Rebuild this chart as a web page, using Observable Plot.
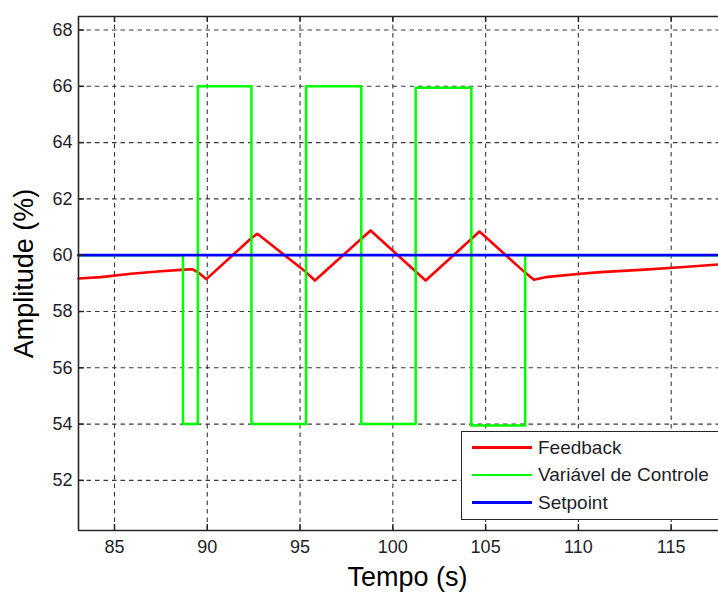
<!DOCTYPE html>
<html>
<head>
<meta charset="utf-8">
<script src="https://cdn.jsdelivr.net/npm/d3@7"></script>
<script src="https://cdn.jsdelivr.net/npm/@observablehq/plot@0.6"></script>
<style>
  html, body { margin: 0; padding: 0; background: #fff; }
  #fig { position: relative; width: 718px; height: 592px; overflow: hidden; font-family: "Liberation Sans", Arial, sans-serif; }
  #legend { position: absolute; left: 461px; top: 431px; width: 280px; height: 89px; background: #fff; border: 1.5px solid #262626; box-sizing: border-box; }
  .row { position: absolute; left: 0; height: 26px; display: flex; align-items: center; }
  .sw { width: 60px; height: 2.5px; margin-left: 10px; margin-right: 6px; }
  .lb { font-size: 19px; color: #1e1e2a; white-space: nowrap; }
</style>
</head>
<body>
<div id="fig"></div>
<script>
// ---- data ----
const xDomain = [83.06, 117.55];
const yDomain = [50.22, 68.48];
const xTicks = [85, 90, 95, 100, 105, 110, 115];
const yTicks = [52, 54, 56, 58, 60, 62, 64, 66, 68];

const seriesNames = ["Feedback", "Variável de Controle", "Setpoint"];
const seriesColors = ["#ff0000", "#00ff00", "#0000ff"];

const feedbackT = [83.06, 84.26, 85.88, 87.50, 88.57, 89.20, 89.49, 89.95, 92.40, 92.70, 95.32, 95.80, 98.80, 101.23, 101.77, 104.67, 107.10, 107.60, 108.23, 110.11, 111.19, 113.35, 115.50, 117.55];
const feedbackV = [59.17, 59.22, 59.34, 59.43, 59.48, 59.50, 59.40, 59.15, 60.62, 60.76, 59.40, 59.10, 60.88, 59.42, 59.10, 60.84, 59.40, 59.13, 59.22, 59.34, 59.40, 59.48, 59.57, 59.67];

const controlT = [83.06, 88.69, 89.49, 92.38, 95.32, 98.30, 101.23, 104.23, 107.13, 117.55];
const controlV = [60, 54, 66, 54, 66, 54, 65.95, 53.95, 60, 60];

const setpointT = [83.06, 117.55];
const setpointV = [60, 60];

// ---- build ----
const toRows = (T, V) => T.map((t, i) => ({t, v: V[i]}));
const feedback = toRows(feedbackT, feedbackV);
const control = toRows(controlT, controlV);
const setpoint = toRows(setpointT, setpointV);

const W = 718, H = 592, mL = 78, mR = 0, mT = 16, mB = 62;
const pxX = (xDomain[1] - xDomain[0]) / (W - mL - mR);
const pxY = (yDomain[1] - yDomain[0]) / (H - mT - mB);
const tick = 6;
const frameColor = "#262626";
const grid = {stroke: "#222", strokeOpacity: 0.9, strokeWidth: 1.1, strokeDasharray: "4.5,4"};

const chart = Plot.plot({
  width: W, height: H,
  marginLeft: mL, marginRight: mR, marginTop: mT, marginBottom: mB,
  x: {domain: xDomain},
  y: {domain: yDomain},
  style: {fontFamily: '"Liberation Sans", Arial, sans-serif', fontSize: "18px", color: "#1e1e2a", background: "#fff"},
  marks: [
    Plot.gridX(xTicks, grid),
    Plot.gridY(yTicks, grid),
    Plot.line(feedback, {x: "t", y: "v", stroke: seriesColors[0], strokeWidth: 2.6}),
    Plot.line(control, {x: "t", y: "v", stroke: seriesColors[1], strokeWidth: 2.5, curve: "step-after"}),
    Plot.line(setpoint, {x: "t", y: "v", stroke: seriesColors[2], strokeWidth: 2.7}),
    // inward ticks
    Plot.ruleY(yTicks, {y: d => d, x1: xDomain[0], x2: xDomain[0] + tick * pxX, stroke: frameColor, strokeWidth: 1.5}),
    Plot.ruleX(xTicks, {x: d => d, y1: yDomain[1], y2: yDomain[1] - tick * pxY, stroke: frameColor, strokeWidth: 1.5}),
    Plot.ruleX(xTicks, {x: d => d, y1: yDomain[0], y2: yDomain[0] + tick * pxY, stroke: frameColor, strokeWidth: 1.5}),
    // frame
    Plot.ruleX([xDomain[0]], {stroke: frameColor, strokeWidth: 1.6}),
    Plot.ruleY([yDomain[0]], {stroke: frameColor, strokeWidth: 1.6}),
    Plot.ruleY([yDomain[1]], {stroke: frameColor, strokeWidth: 1.6}),
    Plot.axisX(xTicks, {tickSize: 0, tickPadding: 10, fontSize: 18, label: null}),
    Plot.axisY(yTicks, {tickSize: 0, tickPadding: 6, fontSize: 18, label: null}),
    Plot.text(["Tempo (s)"], {text: d => d, frameAnchor: "bottom", lineAnchor: "middle", textAnchor: "middle", dy: 47, dx: 9, fontSize: 27, fill: "#000"}),
    Plot.text(["Amplitude (%)"], {text: d => d, frameAnchor: "left", lineAnchor: "middle", textAnchor: "middle", rotate: -90, dx: -54, fontSize: 27, fill: "#000"})
  ]
});

const fig = document.getElementById("fig");
fig.appendChild(chart);

const legend = document.createElement("div");
legend.id = "legend";
seriesNames.forEach((name, i) => {
  const row = document.createElement("div");
  row.className = "row";
  row.style.top = (2.5 + i * 27.5) + "px";
  const sw = document.createElement("div");
  sw.className = "sw";
  sw.style.background = seriesColors[i];
  const lb = document.createElement("span");
  lb.className = "lb";
  lb.textContent = name;
  row.appendChild(sw);
  row.appendChild(lb);
  legend.appendChild(row);
});
fig.appendChild(legend);
</script>
</body>
</html>
